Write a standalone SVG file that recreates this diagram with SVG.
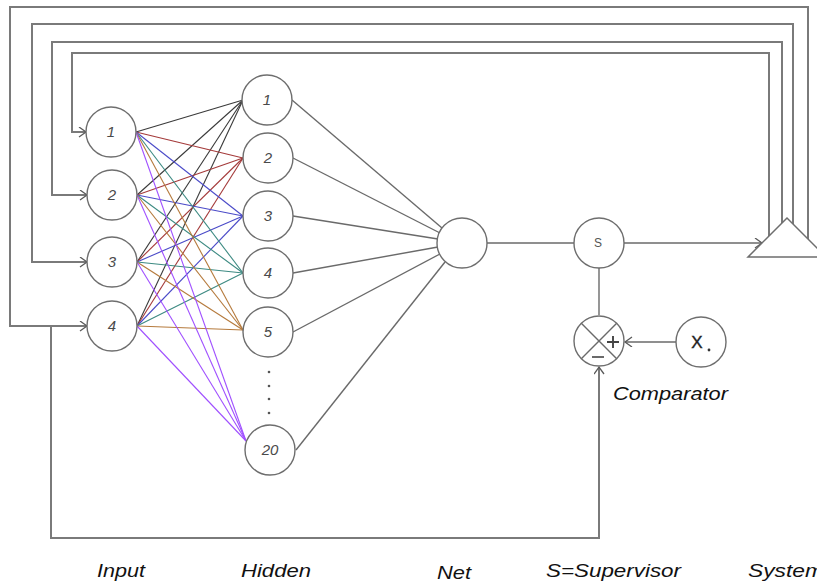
<svg xmlns="http://www.w3.org/2000/svg" width="817" height="588" viewBox="0 0 817 588">
  <style>
    .node { fill: #ffffff; stroke: #6e6e6e; stroke-width: 1.4; }
    .wire { fill: none; stroke: #6a6a6a; stroke-width: 1.4; }
    .loop { fill: none; stroke: #7a7a7a; stroke-width: 2; }
    .num { font-family: "Liberation Sans", Arial, sans-serif; font-style: italic; font-size: 15px; fill: #4a4a4a; text-anchor: middle; }
    .cap { font-family: "Liberation Sans", Arial, sans-serif; font-style: italic; font-size: 18px; fill: #111111; }
    .w1 { stroke: #3a3a3a; } .w2 { stroke: #a43a3a; } .w3 { stroke: #4a4ac8; }
    .w4 { stroke: #3c8a82; } .w5 { stroke: #b57a3c; } .w20 { stroke: #a050ff; }
    .syn line { stroke-width: 1.1; }
  </style>
  <defs>
    <marker id="arrow" markerUnits="userSpaceOnUse" markerWidth="12" markerHeight="12" refX="8" refY="5" orient="auto">
      <path d="M1,0 L8,5 L1,10" fill="none" stroke="#5a5a5a" stroke-width="1.3"/>
    </marker>
  </defs>

  <!-- connectors -->
  <g id="connectors">
    <!-- feedback loops from the system output back to each input -->
    <polyline class="loop" points="769,236 769,53 72,53 72,132 86,132" marker-end="url(#arrow)"/>
    <polyline class="loop" points="782,223 782,42 52,42 52,195 87,195" marker-end="url(#arrow)"/>
    <polyline class="loop" points="793,224 793,24 32,24 32,262 87,262" marker-end="url(#arrow)"/>
    <polyline class="loop" points="808,239 808,7 10,7 10,326 87,326" marker-end="url(#arrow)"/>
    <!-- return path to the comparator -->
    <polyline class="loop" points="51,326 51,538 599,538 599,367" marker-end="url(#arrow)"/>

    <!-- input to hidden synapses, coloured by hidden neuron -->
    <g class="syn">
      <g class="w1">
        <line x1="136" y1="132" x2="243" y2="100"/>
        <line x1="137" y1="195" x2="243" y2="100"/>
        <line x1="137" y1="262" x2="243" y2="100"/>
        <line x1="137" y1="326" x2="243" y2="100"/>
      </g>
      <g class="w2">
        <line x1="136" y1="132" x2="243" y2="158"/>
        <line x1="137" y1="195" x2="243" y2="158"/>
        <line x1="137" y1="262" x2="243" y2="158"/>
        <line x1="137" y1="326" x2="243" y2="158"/>
      </g>
      <g class="w3">
        <line x1="136" y1="132" x2="243" y2="216"/>
        <line x1="137" y1="195" x2="243" y2="216"/>
        <line x1="137" y1="262" x2="243" y2="216"/>
        <line x1="137" y1="326" x2="243" y2="216"/>
      </g>
      <g class="w4">
        <line x1="136" y1="132" x2="243" y2="273"/>
        <line x1="137" y1="195" x2="243" y2="273"/>
        <line x1="137" y1="262" x2="243" y2="273"/>
        <line x1="137" y1="326" x2="243" y2="273"/>
      </g>
      <g class="w5">
        <line x1="136" y1="132" x2="243" y2="330"/>
        <line x1="137" y1="195" x2="243" y2="330"/>
        <line x1="137" y1="262" x2="243" y2="330"/>
        <line x1="137" y1="326" x2="243" y2="330"/>
      </g>
      <g class="w20">
        <line x1="136" y1="132" x2="246" y2="441"/>
        <line x1="137" y1="195" x2="246" y2="441"/>
        <line x1="137" y1="262" x2="246" y2="441"/>
        <line x1="137" y1="326" x2="246" y2="441"/>
      </g>
    </g>

    <!-- hidden to net -->
    <g class="wire">
      <line x1="292" y1="100" x2="442" y2="228"/>
      <line x1="293" y1="158" x2="440" y2="233"/>
      <line x1="293" y1="216" x2="438" y2="239"/>
      <line x1="293" y1="273" x2="438" y2="247"/>
      <line x1="293" y1="332" x2="440" y2="254"/>
      <line x1="296" y1="450" x2="445" y2="262"/>
    </g>

    <!-- net, supervisor, comparator and system -->
    <line class="wire" x1="487" y1="243" x2="574" y2="243"/>
    <line class="wire" x1="624" y1="243" x2="762" y2="243" marker-end="url(#arrow)"/>
    <line class="wire" x1="599" y1="268" x2="599" y2="315"/>
    <line class="wire" x1="676" y1="342" x2="625" y2="342" marker-end="url(#arrow)"/>
  </g>

  <!-- input layer -->
  <g id="input-1"><circle class="node" cx="111" cy="132" r="25"/><text class="num" x="111" y="137">1</text></g>
  <g id="input-2"><circle class="node" cx="112" cy="195" r="25"/><text class="num" x="112" y="200">2</text></g>
  <g id="input-3"><circle class="node" cx="112" cy="262" r="25"/><text class="num" x="112" y="267">3</text></g>
  <g id="input-4"><circle class="node" cx="112" cy="326" r="25"/><text class="num" x="112" y="331">4</text></g>

  <!-- hidden layer -->
  <g id="hidden-1"><circle class="node" cx="267" cy="100" r="25"/><text class="num" x="267" y="105">1</text></g>
  <g id="hidden-2"><circle class="node" cx="268" cy="158" r="25"/><text class="num" x="268" y="163">2</text></g>
  <g id="hidden-3"><circle class="node" cx="268" cy="216" r="25"/><text class="num" x="268" y="221">3</text></g>
  <g id="hidden-4"><circle class="node" cx="268" cy="273" r="25"/><text class="num" x="268" y="278">4</text></g>
  <g id="hidden-5"><circle class="node" cx="268" cy="332" r="25"/><text class="num" x="268" y="337">5</text></g>
  <g id="hidden-ellipsis" fill="#555555">
    <circle cx="269" cy="372" r="1.3"/><circle cx="269" cy="386" r="1.3"/>
    <circle cx="269" cy="399" r="1.3"/><circle cx="269" cy="413" r="1.3"/>
  </g>
  <g id="hidden-20"><circle class="node" cx="270" cy="450" r="25"/><text class="num" x="270" y="455">20</text></g>

  <!-- output neuron -->
  <g id="net"><circle class="node" cx="462" cy="243" r="25"/></g>

  <!-- supervisor -->
  <g id="supervisor">
    <circle class="node" cx="599" cy="243" r="25"/>
    <text x="598" y="247" font-family="'Liberation Sans', Arial, sans-serif" font-size="12" fill="#555555" text-anchor="middle">S</text>
  </g>

  <!-- comparator -->
  <g id="comparator">
    <circle class="node" cx="599" cy="341" r="25"/>
    <line class="wire" x1="581.3" y1="323.3" x2="616.7" y2="358.7"/>
    <line class="wire" x1="616.7" y1="323.3" x2="581.3" y2="358.7"/>
    <path d="M607,342 H619 M613,336 V348" stroke="#444444" stroke-width="1.9" fill="none"/>
    <path d="M592,357 H604" stroke="#444444" stroke-width="1.6" fill="none"/>
    <text class="cap" x="613" y="400" font-size="17" textLength="115" lengthAdjust="spacingAndGlyphs">Comparator</text>
  </g>

  <!-- reference value -->
  <g id="reference">
    <circle class="node" cx="701" cy="342" r="25"/>
    <text x="697" y="348" font-family="'Liberation Sans', Arial, sans-serif" font-size="17" fill="#222222" stroke="#222222" stroke-width="0.4" text-anchor="middle">X</text>
    <circle cx="709" cy="350" r="1.4" fill="#333333"/>
  </g>

  <!-- controlled system -->
  <g id="system">
    <polygon points="787,218 748,257 826,257" fill="#ffffff" stroke="#6e6e6e" stroke-width="1.5"/>
  </g>

  <!-- layer captions -->
  <g id="captions">
    <text class="cap" x="97" y="577" textLength="48" lengthAdjust="spacingAndGlyphs">Input</text>
    <text class="cap" x="241" y="577" textLength="70" lengthAdjust="spacingAndGlyphs">Hidden</text>
    <text class="cap" x="437" y="579" textLength="34" lengthAdjust="spacingAndGlyphs">Net</text>
    <text class="cap" x="546" y="577" textLength="135" lengthAdjust="spacingAndGlyphs">S=Supervisor</text>
    <text class="cap" x="748" y="577" textLength="76" lengthAdjust="spacingAndGlyphs">System</text>
  </g>
</svg>
